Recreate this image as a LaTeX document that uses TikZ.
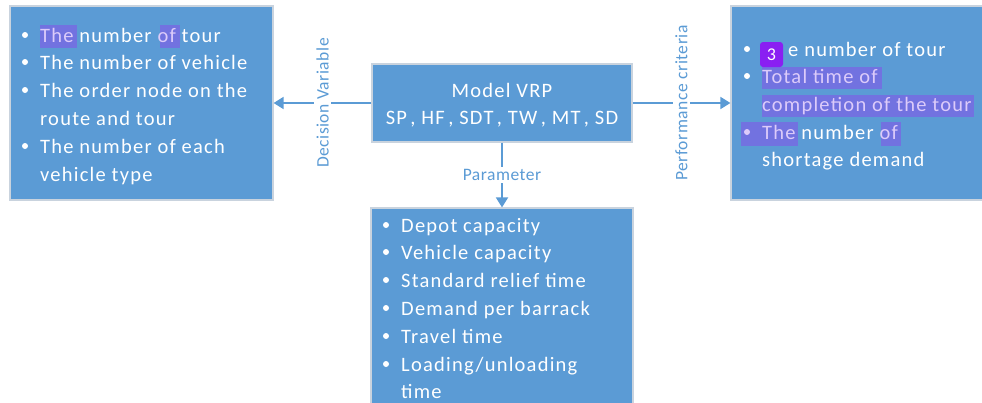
\documentclass[tikz,border=0pt]{standalone}
\usepackage{fontspec}
\setmainfont{Carlito}
\newfontfamily\spacedfont[LetterSpace=6]{Carlito}
\newfontfamily\lblfont[LetterSpace=3]{Carlito}
\usetikzlibrary{arrows.meta}
\definecolor{boxblue}{HTML}{5B9BD5}
\definecolor{boxedge}{HTML}{C9D3DE}
\definecolor{hl}{HTML}{7272E0}
\definecolor{hltext}{HTML}{DCCBFA}
\definecolor{badge}{HTML}{8A1FF2}
\tikzset{
  box/.style={rectangle, fill=boxblue, draw=boxedge, line width=1.2pt, inner sep=0pt},
  conn/.style={draw=boxblue, line width=1.8pt, -{Triangle[width=12pt,length=10pt]}},
  lbl/.style={fill=white, text=boxblue, font=\lblfont\fontsize{17.5}{20}\selectfont, inner sep=2pt},
  ln/.style={anchor=base west, inner sep=0pt, text=white, font=\spacedfont\fontsize{20.5}{24}\selectfont},
  bul/.style={circle, fill=white, inner sep=0pt, minimum size=6pt},
  hlbox/.style={fill=hl},
}
\begin{document}
\begin{tikzpicture}[x=1pt,y=-1pt]
\useasboundingbox (0,0) rectangle (982,402);
% boxes
\node[box, minimum width=263pt, minimum height=194pt] (dv) at (141.5,103) {};
\node[box, minimum width=260pt, minimum height=78pt] (vrp) at (502,103) {};
\node[box, minimum width=256pt, minimum height=194pt] (pc) at (859,103) {};
\node[box, minimum width=262pt, minimum height=204pt] (par) at (502,310) {};
% highlights
\fill[hlbox] (40,25) rectangle (77,48);
\fill[hlbox] (160,25) rectangle (180,48);
\fill[hlbox] (762,67) rectangle (882,89);
\fill[hlbox] (762,95) rectangle (974,117);
\fill[hlbox] (741,122) rectangle (798,146);
\fill[hlbox] (881,122) rectangle (901,146);
% model box text
\node[anchor=base, inner sep=0pt, text=white, font=\spacedfont\fontsize{20.5}{24}\selectfont] (m1) at (502,97) {Model VRP};
\node[anchor=base, inner sep=0pt, text=white, font=\spacedfont\fontsize{20.5}{24}\selectfont] (m2) at (502,124) {SP\,, HF\,, SDT\,, TW\,, MT\,, SD};
% left box
\node[bul] (db1) at (25,35) {};
\node[ln] (d1) at (40,42) {\textcolor{hltext}{The} number \textcolor{hltext}{of} tour};
\node[bul] (db2) at (25,62) {};
\node[ln] (d2) at (40,69) {The number of vehicle};
\node[bul] (db3) at (25,90) {};
\node[ln] (d3) at (40,97) {The order node on the};
\node[ln] (d4) at (40,125) {route and tour};
\node[bul] (db4) at (25,146) {};
\node[ln] (d5) at (40,153) {The number of each};
\node[ln] (d6) at (40,181) {vehicle type};
% right box
\node[bul] (pb1) at (747,49) {};
\node[fill=badge, rounded corners=3pt, minimum width=23pt, minimum height=25pt, inner sep=0pt, text=white, font=\fontsize{18}{20}\selectfont] (badge) at (771.5,54.5) {3};
\node[ln] (p1) at (788,56) {e number of tour};
\node[bul] (pb2) at (747,76) {};
\node[ln] (p2) at (762,83) {\textcolor{hltext}{Total time of}};
\node[ln] (p3) at (762,111) {\textcolor{hltext}{completion of the tour}};
\node[bul, fill=hltext] (pb3) at (747,132) {};
\node[ln] (p4) at (762,139) {\textcolor{hltext}{The} number \textcolor{hltext}{of}};
\node[ln] (p5) at (762,166) {shortage demand};
% bottom box
\node[bul] (bb1) at (386,225) {};
\node[ln] (b1) at (401,232) {Depot capacity};
\node[bul] (bb2) at (386,252) {};
\node[ln] (b2) at (401,259) {Vehicle capacity};
\node[bul] (bb3) at (386,280) {};
\node[ln] (b3) at (401,287) {Standard relief time};
\node[bul] (bb4) at (386,308) {};
\node[ln] (b4) at (401,315) {Demand per barrack};
\node[bul] (bb5) at (386,336) {};
\node[ln] (b5) at (401,343) {Travel time};
\node[bul] (bb6) at (386,364) {};
\node[ln] (b6) at (401,371) {Loading/unloading};
\node[ln] (b7) at (401,398) {time};
% connectors
\draw[conn] (vrp.west) -- node[lbl, rotate=90] (ldv) {Decision Variable} (dv.east);
\draw[conn] (vrp.east) -- node[lbl, rotate=90] (lpc) {Performance criteria} (pc.west);
\draw[conn] (vrp.south) -- node[lbl] (lpar) {Parameter} (par.north);
\end{tikzpicture}
\end{document}
